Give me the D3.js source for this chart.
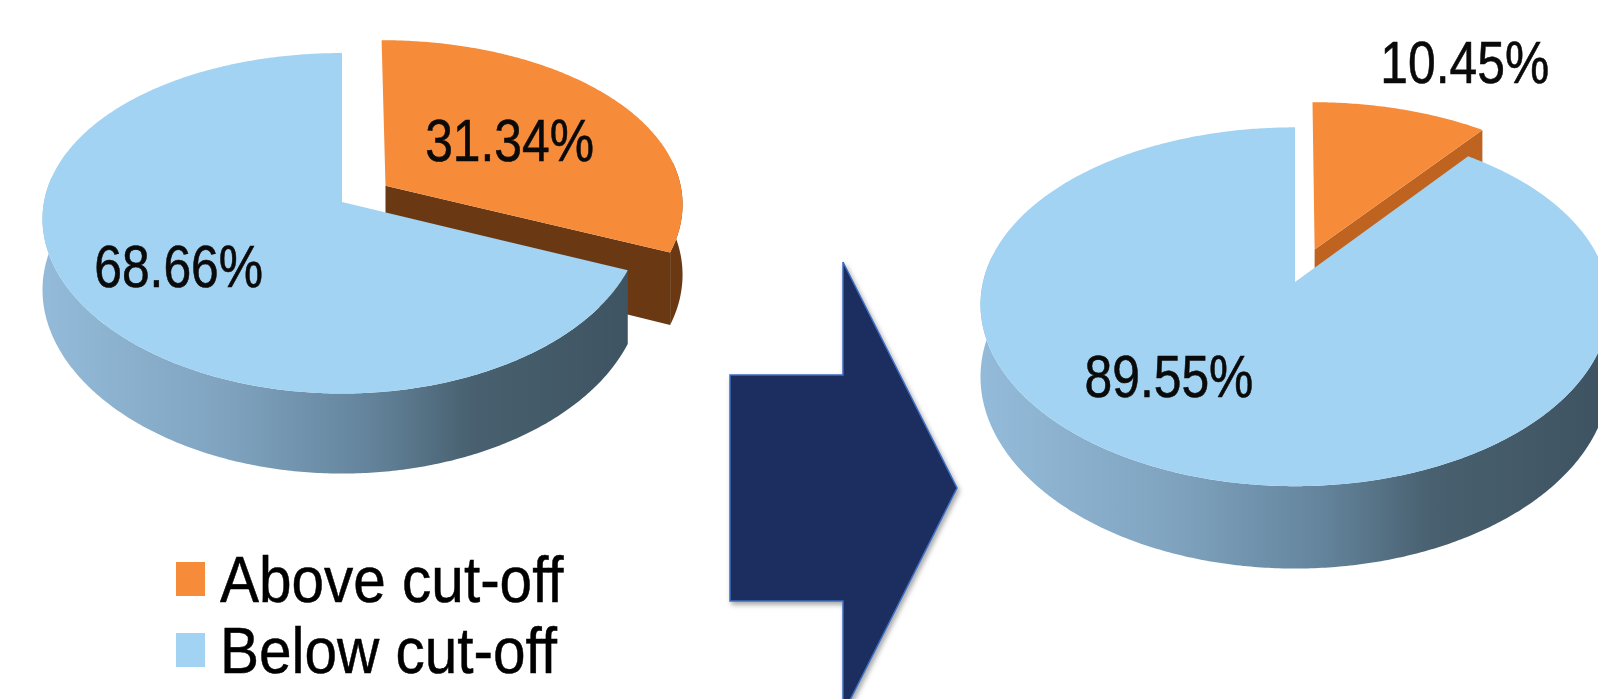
<!DOCTYPE html>
<html><head><meta charset="utf-8">
<script src="https://cdn.jsdelivr.net/npm/d3@7"></script>
<style>html,body{margin:0;padding:0;background:#fff;overflow:hidden}</style>
</head><body>
<svg id="chart" width="1598" height="699"></svg>
<script>
// ---- data ----
const categories = ["Above cut-off", "Below cut-off"];
const beforeValues = [31.34, 68.66];
const afterValues = [10.45, 89.55];
const sliceColors = ["#F68B3A", "#A2D3F3"];

// ---- layout ----
const pies = [
  {values: beforeValues, cx: 342, cy: 202, rx: 298, ry: 167.6, k: 0.125, kx: 0.1, h: 70, explode: 0.177,
   orangeRadial: "#6A3913", orangeOuter: "#6A3913", gid: "gL",
   labels: [[56.0, 0.705], [235.8, 0.639]]},
  {values: afterValues, cx: 1295, cy: 282, rx: 312, ry: 176, k: 0.138, kx: 0.126, h: 71, explode: 0.2,
   orangeRadial: "#BE6320", orangeOuter: "#A9561A", gid: "gR",
   labels: [[23.2, 1.644], [217.3, 0.625]]}
];
const svg = d3.select("#chart");
const defs = svg.append("defs");

pies.forEach(p => {
  const g = defs.append("linearGradient").attr("id", p.gid)
    .attr("gradientUnits", "userSpaceOnUse")
    .attr("x1", p.cx - p.rx).attr("x2", p.cx + p.rx).attr("y1", 0).attr("y2", 0);
  [[0, "#93BBD9"], [0.3, "#80A4C0"], [0.55, "#63839B"], [0.72, "#48606F"], [1, "#3E5361"]]
    .forEach(s => g.append("stop").attr("offset", s[0]).attr("stop-color", s[1]));
});
const sh = defs.append("filter").attr("id", "shadow").attr("x", "-20%").attr("y", "-20%").attr("width", "140%").attr("height", "140%");
sh.append("feDropShadow").attr("dx", 2).attr("dy", 3).attr("stdDeviation", 2.5).attr("flood-color", "#000").attr("flood-opacity", 0.35);

const pieGen = d3.pie().sort(null).startAngle(0).endAngle(2 * Math.PI);
const line = d3.line();

function proj(p, X, Z, down) {
  const w = 1 - p.k * Z, wx = 1 - p.kx * Z;
  return [p.cx + p.rx * X / wx, p.cy + (p.ry * Z + p.h * down) / w];
}
function rimPt(p, a, f, ox, oz, down) {
  return proj(p, ox + f * Math.sin(a), oz - f * Math.cos(a), down);
}
function arcPts(p, a0, a1, ox, oz, down) {
  const n = Math.max(2, Math.ceil(Math.abs(a1 - a0) / 0.01));
  const pts = [];
  for (let i = 0; i <= n; i++) pts.push(rimPt(p, a0 + (a1 - a0) * i / n, 1, ox, oz, down));
  return pts;
}

pies.forEach(p => {
  const arcs = pieGen(p.values);
  const layer = svg.append("g");
  // exploded small slice first (it sits behind), then the big slice
  [0, 1].forEach(i => {
    const d = arcs[i];
    const s = d.startAngle, e = d.endAngle, mid = (s + e) / 2;
    const ex = i === 0 ? p.explode : 0;
    const ox = ex * Math.sin(mid), oz = -ex * Math.cos(mid);
    const gS = layer.append("g").attr("class", "slice-" + i);
    // outer side (front-facing part, slightly widened for perspective silhouette)
    const a = Math.max(s, Math.PI / 2 - 0.15), b = Math.min(e, 3 * Math.PI / 2 + 0.15);
    if (b > a) {
      const pts = arcPts(p, a, b, ox, oz, 0).concat(arcPts(p, b, a, ox, oz, 1));
      gS.append("path").attr("d", line(pts) + "Z")
        .attr("fill", i === 0 ? p.orangeOuter : "url(#" + p.gid + ")");
    }
    // radial faces that face the viewer
    const c0 = proj(p, ox, oz, 0), c1 = proj(p, ox, oz, 1);
    [[s, -Math.sin(s)], [e, Math.sin(e)]].forEach(([ang, vis]) => {
      if (vis > 0.01) {
        const pts = [c0, rimPt(p, ang, 1, ox, oz, 0), rimPt(p, ang, 1, ox, oz, 1), c1];
        gS.append("path").attr("d", line(pts) + "Z")
          .attr("fill", i === 0 ? p.orangeRadial : "#4A6475");
      }
    });
    // top face
    const top = [c0].concat(arcPts(p, s, e, ox, oz, 0));
    gS.append("path").attr("d", line(top) + "Z").attr("fill", sliceColors[i]);
  });
  // labels
  arcs.forEach((d, i) => {
    const [ang, f] = p.labels[i];
    const pt = rimPt(p, ang * Math.PI / 180, f, 0, 0, 0);
    layer.append("text")
      .attr("transform", `translate(${pt[0]},${pt[1] + 21.5}) scale(0.83,1)`)
      .attr("text-anchor", "middle")
      .attr("font-family", "'Liberation Sans', Arial, sans-serif")
      .attr("font-size", 60)
      .attr("fill", "#0a0a0a")
      .attr("stroke", "#0a0a0a").attr("stroke-width", 0.6)
      .text(d.data.toFixed(2) + "%");
  });
});

// ---- legend ----
const legend = svg.append("g");
categories.forEach((c, i) => {
  const y0 = 562 + i * 71;
  legend.append("rect").attr("x", 176).attr("y", y0).attr("width", 29).attr("height", 34).attr("fill", sliceColors[i]);
  legend.append("text")
    .attr("transform", `translate(220,${y0 + 40}) scale(0.9,1)`)
    .attr("font-family", "'Liberation Sans', Arial, sans-serif")
    .attr("font-size", 65)
    .attr("fill", "#000")
    .attr("stroke", "#000").attr("stroke-width", 0.5)
    .text(c);
});

// ---- arrow ----
const arrowPts = [[730, 375], [843, 375], [843, 262], [957, 488], [843, 714], [843, 601], [730, 601]];
svg.append("path").attr("d", d3.line()(arrowPts) + "Z")
  .attr("fill", "#1F2D5F").attr("stroke", "#3D6DC0").attr("stroke-width", 1.5)
  .attr("filter", "url(#shadow)");
</script>
</body></html>
